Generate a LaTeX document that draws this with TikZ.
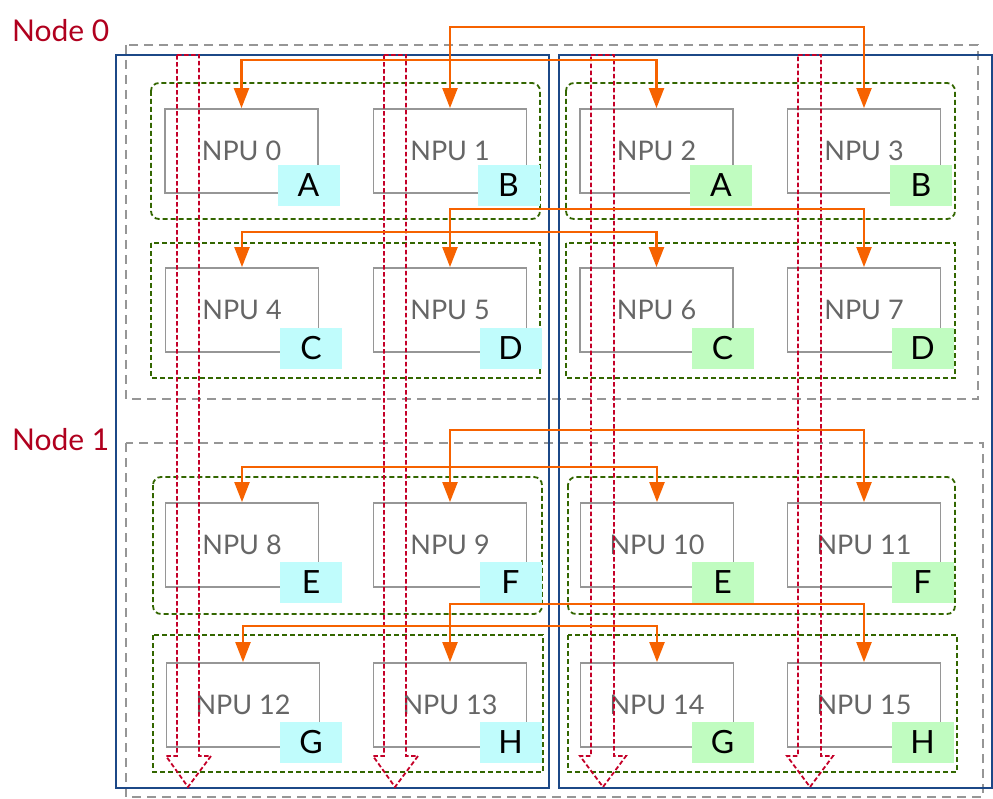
\documentclass[tikz,border=0pt]{standalone}
\usepackage{fontspec}
\setmainfont{Lato}
\usetikzlibrary{arrows.meta}
\definecolor{orng}{RGB}{246,98,0}
\definecolor{grnd}{RGB}{51,102,0}
\definecolor{grayd}{RGB}{150,150,150}
\definecolor{npugray}{RGB}{102,102,102}
\definecolor{bluec}{RGB}{28,72,135}
\definecolor{redd}{RGB}{196,0,40}
\definecolor{nodered}{RGB}{176,0,30}
\definecolor{cyanl}{RGB}{192,252,252}
\definecolor{grnl}{RGB}{192,252,192}
\tikzset{
  nodebox/.style={draw=grayd, line width=2pt, dash pattern=on 9pt off 6pt},
  colbox/.style={draw=bluec, line width=2pt},
  grpround/.style={draw=grnd, line width=1.8pt, dash pattern=on 5pt off 3pt, rounded corners=8pt},
  grpsquare/.style={draw=grnd, line width=1.8pt, dash pattern=on 5pt off 3pt},
  npu/.style={draw=grayd, line width=1.8pt, minimum width=153pt, minimum height=84pt, inner sep=0pt, text=npugray, font=\fontsize{27}{29}\selectfont},
  lab/.style={minimum width=62pt, minimum height=41pt, inner sep=0pt, text=black, font=\fontsize{32}{34}\selectfont},
  redarrow/.style={draw=redd, line width=1.8pt, dash pattern=on 4.5pt off 2.5pt},
  link/.style={draw=orng, line width=2.2pt, {Triangle[length=20pt,width=15pt]}-{Triangle[length=20pt,width=15pt]}},
  nodelabel/.style={text=nodered, font=\fontsize{30}{32}\selectfont, inner sep=0pt, anchor=base west}
}
\begin{document}
\begin{tikzpicture}[x=1pt,y=-1pt]
\useasboundingbox (0,0) rectangle (993,799);
% node boxes
\draw[nodebox] (126,45) rectangle (978,399);
\draw[nodebox] (126,443) rectangle (983,797);
% column boxes
\draw[colbox] (116,55) rectangle (549,788);
\draw[colbox] (559,55) rectangle (992,788);
% groups
\draw[grpround] (151,83) rectangle (540,219);
\draw[grpround] (566,83) rectangle (955,219);
\draw[grpsquare] (151,243) rectangle (540,378);
\draw[grpsquare] (566,243) rectangle (955,378);
\draw[grpround] (153,477) rectangle (542,614);
\draw[grpround] (568,477) rectangle (955,614);
\draw[grpsquare] (153,635) rectangle (543,772);
\draw[grpsquare] (568,635) rectangle (957,772);
% labels
\node[nodelabel] (node0) at (12,42) {Node 0};
\node[nodelabel] (node1) at (12,450) {Node 1};
% NPUs
\foreach \i/\x/\y in {0/241.5/151,1/450/151,2/656.5/151,3/864/151,
                      4/242/310,5/450/310,6/656.5/310,7/864/310,
                      8/242/545,9/450/545,10/657/545,11/864/545,
                      12/243/705,13/450/705,14/657/705,15/864/705}
  \node[npu] (n\i) at (\x,\y) {NPU \i};
% letter tags
\foreach \i/\t/\c/\x/\y in {0/A/cyanl/308.5/185.5,1/B/cyanl/508.5/185.5,2/A/grnl/721/185.5,3/B/grnl/921/185.5,
                            4/C/cyanl/311/348.5,5/D/cyanl/510.5/348.5,6/C/grnl/722.5/348.5,7/D/grnl/922.5/348.5,
                            8/E/cyanl/311/582.5,9/F/cyanl/510.5/582.5,10/E/grnl/722.5/582.5,11/F/grnl/922.5/582.5,
                            12/G/cyanl/311/742.5,13/H/cyanl/510.5/742.5,14/G/grnl/722.5/742.5,15/H/grnl/922.5/742.5}
  \node[lab, fill=\c] (t\i) at (\x,\y) {\t};
% red hollow dashed arrows
\foreach \a/\b/\l/\r/\m in {177/199/166/211/188, 384/406/373/418/395, 591/614/580/626/603, 798/821/787/833/810}
  \draw[redarrow] (\a,55) -- (\b,55) -- (\b,756) -- (\r,756) -- (\m,787) -- (\l,756) -- (\a,756) -- cycle;
% orange links
\coordinate (r1u) at (0,27);  \coordinate (r1l) at (0,60);
\coordinate (r2u) at (0,209); \coordinate (r2l) at (0,232);
\coordinate (r3u) at (0,430); \coordinate (r3l) at (0,467);
\coordinate (r4u) at (0,604); \coordinate (r4l) at (0,626);
\draw[link] (n1.north) -- (n1.north |- r1u) -| (n3.north);
\draw[link] (n0.north) -- (n0.north |- r1l) -| (n2.north);
\draw[link] (n5.north) -- (n5.north |- r2u) -| (n7.north);
\draw[link] (n4.north) -- (n4.north |- r2l) -| (n6.north);
\draw[link] (n9.north) -- (n9.north |- r3u) -| (n11.north);
\draw[link] (n8.north) -- (n8.north |- r3l) -| (n10.north);
\draw[link] (n13.north) -- (n13.north |- r4u) -| (n15.north);
\draw[link] (n12.north) -- (n12.north |- r4l) -| (n14.north);
\end{tikzpicture}
\end{document}
